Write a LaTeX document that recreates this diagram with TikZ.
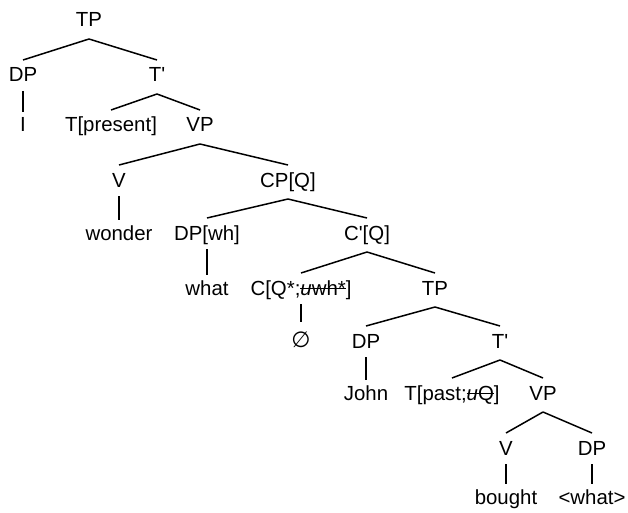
\documentclass[tikz,border=0pt]{standalone}
\usepackage{fontspec}
\setmainfont{Liberation Sans}
\newfontfamily\djv{DejaVu Sans}
\newcommand\strk[1]{\setbox0\hbox{#1}\rlap{\rule[0.27em]{\wd0}{0.06em}}\box0}
\newcommand\prm{\textquotesingle}
\begin{document}
\begin{tikzpicture}[x=1pt,y=-1pt,
  lab/.style={anchor=base,inner sep=0pt,outer sep=0pt,text height=22pt,text depth=12pt,font=\fontsize{20.4}{24}\selectfont},
  edge/.style={line width=1.5pt},
  vert/.style={edge,shorten <=-3pt,shorten >=-2pt}]
\useasboundingbox[fill=white] (0,0) rectangle (628,513);
\node[lab] (tp0) at (89,27) {TP};
\node[lab] (dp1) at (23,82) {DP};
\node[lab] (tb1) at (157,82) {T\prm};
\node[lab] (i) at (23,132) {I};
\node[lab] (tpres) at (111,132) {T[present]};
\node[lab] (vp2) at (200,132) {VP};
\node[lab] (v3) at (119,187) {V};
\node[lab] (cpq) at (288,187) {CP[Q]};
\node[lab] (wonder) at (119,240) {wonder};
\node[lab] (dpwh) at (207,240) {DP[wh]};
\node[lab] (cbq) at (367,240) {C\prm[Q]};
\node[lab] (what) at (207,295) {what};
\node[lab] (c5) at (301,295) {C[Q*;\strk{\textit{u}wh*}]};
\node[lab] (tp5) at (435,295) {TP};
\node[lab] (empty) at (301,347) {\djv\fontsize{22}{24}\selectfont ∅};
\node[lab] (dp6) at (366,348) {DP};
\node[lab] (tb6) at (500,348) {T\prm};
\node[lab] (john) at (366,400) {John};
\node[lab] (tpast) at (452,400) {T[past;\strk{\textit{u}Q}]};
\node[lab] (vp7) at (543,400) {VP};
\node[lab] (v8) at (506,455) {V};
\node[lab] (dp8) at (592,455) {DP};
\node[lab] (bought) at (506,504) {bought};
\node[lab] (what9) at (592,504) {<what>};
\draw[edge] (tp0.south) -- (dp1.north);
\draw[edge] (tp0.south) -- (tb1.north);
\draw[vert] (dp1.south) -- (i.north);
\draw[edge] (tb1.south) -- (tpres.north);
\draw[edge] (tb1.south) -- (vp2.north);
\draw[edge] (vp2.south) -- (v3.north);
\draw[edge] (vp2.south) -- (cpq.north);
\draw[vert] (v3.south) -- (wonder.north);
\draw[edge] (cpq.south) -- (dpwh.north);
\draw[edge] (cpq.south) -- (cbq.north);
\draw[vert] (dpwh.south) -- (what.north);
\draw[edge] (cbq.south) -- (c5.north);
\draw[edge] (cbq.south) -- (tp5.north);
\draw[edge,shorten <=-3pt,shorten >=3pt] (c5.south) -- (empty.north);
\draw[edge] (tp5.south) -- (dp6.north);
\draw[edge] (tp5.south) -- (tb6.north);
\draw[vert] (dp6.south) -- (john.north);
\draw[edge] (tb6.south) -- (tpast.north);
\draw[edge] (tb6.south) -- (vp7.north);
\draw[edge] (vp7.south) -- (v8.north);
\draw[edge] (vp7.south) -- (dp8.north);
\draw[vert] (v8.south) -- (bought.north);
\draw[vert] (dp8.south) -- (what9.north);
\end{tikzpicture}
\end{document}
